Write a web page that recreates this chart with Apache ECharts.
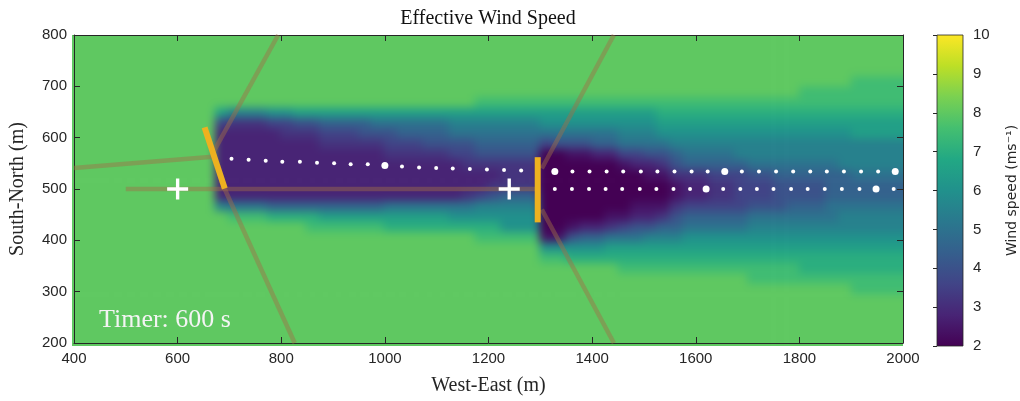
<!DOCTYPE html>
<html><head><meta charset="utf-8">
<script src="https://cdn.jsdelivr.net/npm/echarts@6/dist/echarts.min.js"></script>
<style>
html,body{margin:0;padding:0;background:#fff}
#wrap{position:relative;width:1020px;height:401px;overflow:hidden;background:#fff}
#f{position:absolute;left:0;top:0;width:1020px;height:401px;filter:blur(4px);clip-path:inset(35px 117px 55px 72px)}
#c{position:absolute;left:0;top:0;width:1020px;height:401px}
</style>
</head><body><div id="wrap"><div id="f"></div><div id="c"></div></div>
<script>
// ---------- data ----------
// speed code letters (m/s)
const speedLevels = {a:2.0,b:2.4,c:2.8,d:3.2,e:3.6,f:4.0,g:4.5,h:5.0,i:5.5,j:6.0,k:6.5,l:7.0,m:7.5,n:8.0};
// field cells: 25 m columns from x=400, 20 m rows from y=800 downwards (spaces only group columns)
const speedRows = [
'nnnnnnnnnnn n nnn nnnn nnnnn nnnnn nnnn nnn nn nnnn nnnn nn nn nnnnnn nnnnnnnn',
'nnnnnnnnnnn n nnn nnnn nnnnn nnnnn nnnn nnn nn nnnn nnnn nn nn nnnnnn nnnnnnnn',
'nnnnnnnnnnn n nnn nnnn nnnnn nnnnn nnnn nnn nn nnnn nnnn nn nn nnnnnn nnnnnnnn',
'nnnnnnnnnnn n nnn nnnn nnnnn nnnnn nnnn nnn nn nnnn nnnn nn nn nnnnnn nnnnnnnn',
'nnnnnnnnnnn n nnn nnnn nnnnn nnnnn nnnn nnn nn nnnn nnnn nn nn nnnnnn nnnnmmmm',
'nnnnnnnnnnn n nnn nnnn nnnnn nnnnn nnnn nnn nn nnnn nnnn nn nn nnnnnn mmmmmmmm',
'nnnnnnnnnnn n nnn nnnn nnnnn nnnnn nnmm mmm mm mmmm mmmm mm mm mmmmmm mmmmmmmm',
'nnnnnnnnnnn k iii jjkk kkkkk kkkkk kkkk kkk kk kkkk kkkl ll ll llllll llllllll',
'nnnnnnnnnnn e ddd eeff ggggh hhhhh iiii iii jj jjjj jjjk kk kk kkkkkk kkkkkkkk',
'nnnnnnnnnnn c ccc cddd eeeff fgggg hhhh hhh hh hhhh iiij jj jj jjjjjj jjjjkkkk',
'nnnnnnnnnnn c ccc cccc ddddd eeeff ffgg ggg ef ffgg hhhh ii ii iiiiii iiiiiiii',
'nnnnnnnnnnn c ccc cccc ccccc ddddd eeff fff aa bbcc eeff gh hh hiiiii iiiiiiii',
'nnnnnnnnnnn c ccc cccc ccccc ccccc cddd ddd aa aaaa bccd fg gg gghhhh hhhiiiii',
'nnnnnnnnnnn c ccc cccc ccccc ccccc cccc ddd aa aaaa aabb dd de eeffgg gggghhhh',
'nnnnnnnnnnn c ccc cccc ccccc ccccc cccd ddd aa aaaa aaaa bc cd deeeff ffgggggg',
'nnnnnnnnnnn c ccc cccc ccccc ccccc cdef ggg aa aaaa aaaa bc cd deeeff ffgggggg',
'nnnnnnnnnnn i hhh gggg ggggg hhhhh hhii iii aa aaaa abbb de ee eefffg gghhhhhh',
'nnnnnnnnnnn n mmm llll kkkkk kkkkk jjjj jjj aa aaab bccd fg gg gghhhh hhhiiiii',
'nnnnnnnnnnn n nnn nnnm mmmmm lllll llll jjj aa bccd effg gh hh hhiiii iiiiiiii',
'nnnnnnnnnnn n nnn nnnn nnnnn nnnnn nnmm mmm bb fggh hhii ij jj jjjjjj jjjjjjjj',
'nnnnnnnnnnn n nnn nnnn nnnnn nnnnn nnnn nnn jj jjjk kkkk kk kk kkkkkk kkkkkkkk',
'nnnnnnnnnnn n nnn nnnn nnnnn nnnnn nnnn nnn mm llll llll ll ll llllll llllllll',
'nnnnnnnnnnn n nnn nnnn nnnnn nnnnn nnnn nnn nn nnnn mmmm mm mm mmmmmm llllllll',
'nnnnnnnnnnn n nnn nnnn nnnnn nnnnn nnnn nnn nn nnnn nnnn nn nn nnmmmm mmmmmmmm',
'nnnnnnnnnnn n nnn nnnn nnnnn nnnnn nnnn nnn nn nnnn nnnn nn nn nnnnnn nnnnmmmm',
'nnnnnnnnnnn n nnn nnnn nnnnn nnnnn nnnn nnn nn nnnn nnnn nn nn nnnnnn nnnnnnnn',
'nnnnnnnnnnn n nnn nnnn nnnnn nnnnn nnnn nnn nn nnnn nnnn nn nn nnnnnn nnnnnnnn',
'nnnnnnnnnnn n nnn nnnn nnnnn nnnnn nnnn nnn nn nnnn nnnn nn nn nnnnnn nnnnnnnn',
'nnnnnnnnnnn n nnn nnnn nnnnn nnnnn nnnn nnn nn nnnn nnnn nn nn nnnnnn nnnnnnnn',
'nnnnnnnnnnn n nnn nnnn nnnnn nnnnn nnnn nnn nn nnnn nnnn nn nn nnnnnn nnnnnnnn'
];
const cellX0 = 400, cellY0 = 800, cellW = 25, cellH = 20;

// rotors (end points) of the two turbines
const turbine1 = [[652, 620], [691, 501]];
const turbine2 = [[1295, 562], [1295, 435]];
// sight lines
const sightLines = [
  [[400, 541], [668, 563]],
  [[669, 572], [794, 800]],
  [[690, 502], [826, 200]],
  [[500, 500], [1295, 500]],
  [[1303, 540], [1442, 800]],
  [[1303, 460], [1442, 200]]
];
// plus markers
const plusX = [600, 1240];
const plusY = [500, 500];
// tracer dots
const upperDotsX = [704,737,770,802,836,869,902,934,967,1000,1033,1066,1099,1131,1164,1197,1230,1263,
  1328,1362,1395,1428,1460,1494,1526,1559,1592,1623,1656,1689,1722,1755,1788,1821,1853,1886,1919,1952,1985];
const upperDotsY = [559,557,555,553,553,551,550,548,548,546,544,542,541,540,539,538,537,536,
  534,534,534,534,534,534,534,534,534,534,534,534,534,534,534,534,534,534,534,534,534];
const upperBig = [9, 18, 28, 38];
const lowerDotsX = [1328,1361,1394,1426,1458,1492,1524,1557,1589,1620,1653,1686,1718,1750,1784,1816,1849,1882,1916,1948,1982];
const lowerDotsY = [500,500,500,500,500,500,500,500,500,500,500,500,500,500,500,500,500,500,500,500,500];
const lowerBig = [9, 19];

const viridis = ['#440154','#482475','#414487','#355f8d','#2a788e','#21918c','#22a884','#44bf70','#7ad151','#bddf26','#fde725'];

// ---------- build ----------
const X_MIN = 400, X_MAX = 2000, Y_MIN = 200, Y_MAX = 800;
const fieldData = [];
speedRows.forEach((row, r) => {
  const s = row.replace(/ /g, '');
  for (let c = 0; c < s.length; c++) {
    const x0 = cellX0 + cellW * c, yTop = cellY0 - cellH * r;
    fieldData.push([x0, yTop - cellH, x0 + cellW, yTop, speedLevels[s[c]]]);
  }
});
const dots = (xs, ys, big) => xs.map((x, i) => ({value: [x, ys[i]], symbolSize: big.includes(i) ? 7 : 4}));

const axisCol = '#262626';
const serif = "'Liberation Serif','DejaVu Serif',serif";
const sans = "'Liberation Sans',Arial,sans-serif";
const G = {left: 72, top: 35, width: 831, height: 311};

// --- field layer (smoothed by CSS blur, clipped to the plot box) ---
const field = echarts.init(document.getElementById('f'), null, {renderer: 'canvas'});
field.setOption({
  animation: false,
  grid: G,
  xAxis: {type: 'value', min: X_MIN, max: X_MAX, show: false},
  yAxis: {type: 'value', min: Y_MIN, max: Y_MAX, show: false},
  visualMap: {type: 'continuous', show: false, min: 2, max: 10, dimension: 4, seriesIndex: 0, inRange: {color: viridis}},
  series: [{
    type: 'custom', data: fieldData, silent: true, clip: false,
    dimensions: ['x0','y0','x1','y1','v'], encode: {x: [0, 2], y: [1, 3]},
    renderItem(params, api) {
      const p0 = api.coord([api.value(0), api.value(3)]);
      const p1 = api.coord([api.value(2), api.value(1)]);
      let x = p0[0], y = p0[1], w = p1[0] - p0[0] + 0.7, h = p1[1] - p0[1] + 0.7;
      const pad = 12;
      if (api.value(0) === X_MIN) { x -= pad; w += pad; }
      if (api.value(2) === X_MAX) { w += pad; }
      if (api.value(3) === Y_MAX) { y -= pad; h += pad; }
      if (api.value(1) === Y_MIN) { h += pad; }
      return {type: 'rect', shape: {x, y, width: w, height: h}, style: {fill: api.visual('color')}};
    }
  }]
});

// --- overlay layer ---
const chart = echarts.init(document.getElementById('c'), null, {renderer: 'canvas'});
const lineSeries = (pts, color, width, z) => ({
  type: 'line', data: pts, xAxisIndex: 0, yAxisIndex: 0, symbol: 'none', silent: true, z,
  lineStyle: {color, width, cap: 'butt'}
});
const series = [];
sightLines.forEach(s => series.push(lineSeries(s, 'rgba(160,110,70,0.45)', 4.5, 2)));
series.push({type: 'scatter', xAxisIndex: 0, yAxisIndex: 0, data: dots(upperDotsX, upperDotsY, upperBig),
  symbol: 'circle', itemStyle: {color: '#ffffff', opacity: 1}, z: 3, silent: true});
series.push({type: 'scatter', xAxisIndex: 0, yAxisIndex: 0, data: dots(lowerDotsX, lowerDotsY, lowerBig),
  symbol: 'circle', itemStyle: {color: '#ffffff', opacity: 1}, z: 3, silent: true});
series.push(lineSeries(turbine1, '#EDB120', 6, 4));
series.push(lineSeries(turbine2, '#EDB120', 6, 4));
series.push({type: 'scatter', xAxisIndex: 0, yAxisIndex: 0, data: plusX.map((x, i) => [x, plusY[i]]),
  symbol: 'path://M42,0h16v42h42v16h-42v42h-16v-42h-42v-16h42z', symbolSize: 21,
  itemStyle: {color: '#ffffff', opacity: 1}, z: 5, silent: true});
// colorbar
series.push({
  type: 'custom', xAxisIndex: 2, yAxisIndex: 2, data: [[0, 2, 1, 10]], z: 1, silent: true,
  renderItem(params, api) {
    const p0 = api.coord([api.value(0), api.value(3)]);
    const p1 = api.coord([api.value(2), api.value(1)]);
    const stops = viridis.map((c, i) => ({offset: i / (viridis.length - 1), color: c}));
    return {type: 'rect', shape: {x: p0[0], y: p0[1], width: p1[0] - p0[0], height: p1[1] - p0[1]},
      style: {fill: new echarts.graphic.LinearGradient(0, 1, 0, 0, stops), stroke: axisCol, lineWidth: 0.8}};
  }
});

const plain = v => String(v);
const baseAxis = {
  axisLine: {show: true, lineStyle: {color: axisCol, width: 1}},
  axisTick: {show: true, inside: true, length: 6, lineStyle: {color: axisCol}},
  splitLine: {show: false},
  axisLabel: {color: axisCol, fontSize: 15, fontFamily: sans, formatter: plain}
};

chart.setOption({
  animation: false,
  backgroundColor: 'transparent',
  grid: [G, {left: 937, top: 35, width: 26, height: 311}],
  xAxis: [
    Object.assign({}, baseAxis, {gridIndex: 0, type: 'value', min: X_MIN, max: X_MAX, interval: 200, position: 'bottom',
      axisLabel: Object.assign({}, baseAxis.axisLabel, {margin: 8}),
      name: 'West-East (m)', nameLocation: 'middle', nameGap: 33,
      nameTextStyle: {fontFamily: serif, fontSize: 20, color: axisCol}}),
    Object.assign({}, baseAxis, {gridIndex: 0, type: 'value', min: X_MIN, max: X_MAX, interval: 200, position: 'top',
      axisLabel: {show: false}}),
    {gridIndex: 1, type: 'value', min: 0, max: 1, show: false}
  ],
  yAxis: [
    Object.assign({}, baseAxis, {gridIndex: 0, type: 'value', min: Y_MIN, max: Y_MAX, interval: 100, position: 'left',
      axisLabel: Object.assign({}, baseAxis.axisLabel, {margin: 7}),
      name: 'South-North (m)', nameLocation: 'middle', nameGap: 46, nameRotate: 90,
      nameTextStyle: {fontFamily: serif, fontSize: 20, color: axisCol}}),
    Object.assign({}, baseAxis, {gridIndex: 0, type: 'value', min: Y_MIN, max: Y_MAX, interval: 100, position: 'right',
      axisLabel: {show: false}}),
    {gridIndex: 1, type: 'value', min: 2, max: 10, interval: 1, position: 'right',
      axisLine: {show: false}, splitLine: {show: false},
      axisTick: {show: true, inside: true, length: 4, lineStyle: {color: axisCol}},
      axisLabel: {color: axisCol, fontSize: 15, fontFamily: sans, margin: 10, formatter: plain},
      name: 'Wind speed (ms⁻¹)', nameLocation: 'middle', nameGap: 42, nameRotate: 90,
      nameTextStyle: {fontFamily: "'DejaVu Sans','Liberation Sans',sans-serif", fontSize: 14, color: axisCol}}
  ],
  graphic: [
    {type: 'text', x: 488, y: 19, z: 100, style: {text: 'Effective Wind Speed', font: "20px 'Liberation Serif', serif", fill: '#111', textAlign: 'center', textVerticalAlign: 'middle'}},
    {type: 'text', x: 99, y: 320, z: 100, style: {text: 'Timer: 600 s', font: "26px 'Liberation Serif', serif", fill: '#f4f4f4', textAlign: 'left', textVerticalAlign: 'middle'}}
  ],
  series
});
</script></body></html>
